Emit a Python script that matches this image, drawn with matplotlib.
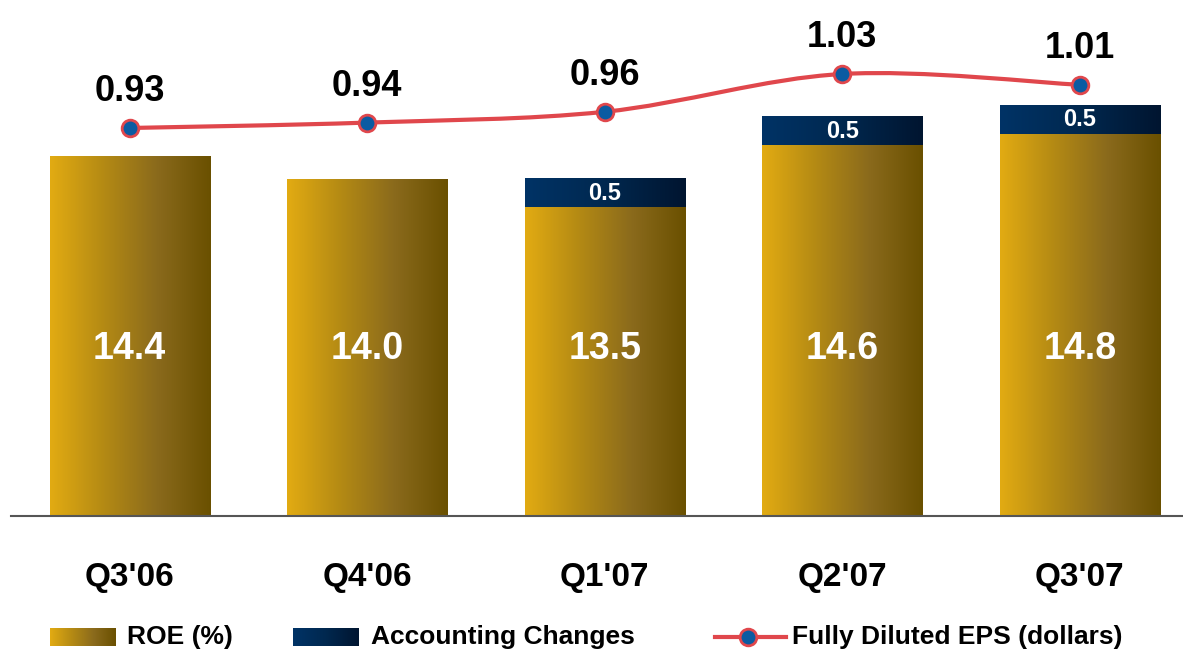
import numpy as np
import matplotlib
matplotlib.use("Agg")
import matplotlib.pyplot as plt
from matplotlib.path import Path
from matplotlib.patches import PathPatch
from matplotlib.lines import Line2D
from matplotlib.colors import LinearSegmentedColormap

plt.rcParams["font.family"] = ["Liberation Sans", "DejaVu Sans"]
plt.rcParams["font.weight"] = "bold"

quarters = ["Q3'06", "Q4'06", "Q1'07", "Q2'07", "Q3'07"]
roe = [14.4, 14.0, 13.5, 14.6, 14.8]
acct_changes = [0, 0, 0.5, 0.5, 0.5]
eps = [0.93, 0.94, 0.96, 1.03, 1.01]

gold_cmap = LinearSegmentedColormap.from_list("gold", ["#E2AB12", "#B48A14", "#8A6A1C", "#6A5000"])
navy_cmap = LinearSegmentedColormap.from_list("navy", ["#003366", "#00284F", "#001530"])
line_color = "#E0474C"
marker_color = "#0B5BA2"

fig = plt.figure(figsize=(11.83, 6.51), dpi=100)
W, H = 1183, 651
ax = fig.add_axes([11 / W, (H - 516) / H, 1 - 11 / W, 516 / H])
ax2 = ax.twinx()

x = np.arange(len(quarters))
grad = np.linspace(0, 1, 256).reshape(1, -1)

ax.set_xlim(-0.5, 4.435)
ax.set_ylim(8.04, 17.17)
ax2.set_ylim(0.2115, 1.167)


def gradient_bars(bars, cmap):
    ymin = ax.get_ylim()[0]
    for b in bars:
        if b.get_height() <= 0:
            continue
        x0, y0 = b.get_x(), b.get_y()
        im = ax.imshow(grad, cmap=cmap, aspect="auto",
                       extent=[x0, x0 + b.get_width(), max(y0, ymin), y0 + b.get_height()],
                       zorder=b.get_zorder())
        b.set_facecolor("none")


gold = ax.bar(x, roe, width=0.674, bottom=0, color="#C9971A", zorder=2)
navy = ax.bar(x, acct_changes, width=0.674, bottom=roe, color="#002850", zorder=2)
gradient_bars(gold, gold_cmap)
gradient_bars(navy, navy_cmap)
ax.set_xlim(-0.5, 4.435)
ax.set_ylim(8.04, 17.17)

# ROE labels inside bars
for xi, v in zip(x, roe):
    ax.text(xi, 11.0, f"{v:.1f}", color="white", fontsize=27, fontweight="bold",
            ha="center", va="center", zorder=5)
# accounting change labels
for xi, r, a in zip(x, roe, acct_changes):
    if a > 0:
        ax.text(xi, r + a / 2, f"{a:.1f}", color="white", fontsize=17,
                fontweight="bold", ha="center", va="center", zorder=5)

# smoothed EPS line (Catmull-Rom as cubic Bezier)
pts = np.column_stack([x, eps]).astype(float)
verts = [tuple(pts[0])]
codes = [Path.MOVETO]
n = len(pts)
for i in range(n - 1):
    p0 = pts[max(i - 1, 0)]
    p1 = pts[i]
    p2 = pts[i + 1]
    p3 = pts[min(i + 2, n - 1)]
    c1 = p1 + (p2 - p0) / 6
    c2 = p2 - (p3 - p1) / 6
    verts += [tuple(c1), tuple(c2), tuple(p2)]
    codes += [Path.CURVE4] * 3
ax2.add_patch(PathPatch(Path(verts, codes), fill=False, edgecolor=line_color,
                        lw=3, zorder=3))
ax2.plot(x, eps, ls="none", marker="o", ms=12, mfc=marker_color,
         mec=line_color, mew=2, zorder=4)
for xi, v in zip(x, eps):
    ax2.annotate(f"{v:.2f}", (xi, v), xytext=(0, 26), textcoords="offset points",
                 ha="center", va="center", fontsize=26, fontweight="bold")

for a in (ax, ax2):
    for s in ("top", "right", "left"):
        a.spines[s].set_visible(False)
    a.set_yticks([])
ax2.spines["bottom"].set_visible(False)
ax.spines["bottom"].set_color("#555555")
ax.spines["bottom"].set_linewidth(1.5)
ax.spines["bottom"].set_zorder(3)
ax.set_xticks(x)
ax.set_xticklabels(quarters, fontsize=24, fontweight="bold")
ax.tick_params(axis="x", length=0, pad=33)

# legend drawn by hand
def swatch(x0, cmap):
    sa = fig.add_axes([x0 / W, (H - 646) / H, 66 / W, 18 / H])
    sa.imshow(grad, cmap=cmap, aspect="auto")
    sa.axis("off")

swatch(50, gold_cmap)
fig.text(127 / W, (H - 637) / H, "ROE (%)", fontsize=19, fontweight="bold", va="center")
swatch(293, navy_cmap)
fig.text(371 / W, (H - 637) / H, "Accounting Changes", fontsize=19, fontweight="bold", va="center")
fig.add_artist(Line2D([715 / W, 786 / W], [(H - 637) / H] * 2, color=line_color, lw=3,
                      transform=fig.transFigure))
fig.add_artist(Line2D([748 / W], [(H - 637) / H], marker="o", ms=12, mfc=marker_color,
                      mec=line_color, mew=2, transform=fig.transFigure))
fig.text(792 / W, (H - 637) / H, "Fully Diluted EPS (dollars)", fontsize=19,
         fontweight="bold", va="center")

fig.savefig("out.png", dpi=100)
